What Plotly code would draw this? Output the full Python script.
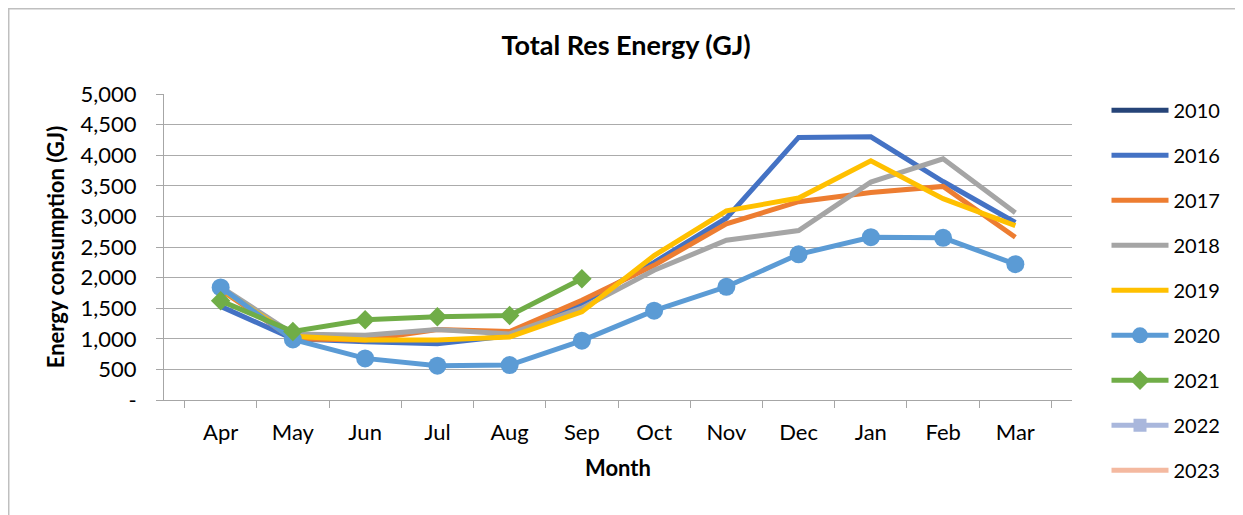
import plotly.graph_objects as go

months = ["Apr", "May", "Jun", "Jul", "Aug", "Sep", "Oct", "Nov", "Dec", "Jan", "Feb", "Mar"]

y2010 = [None] * 12
y2016 = [1530, 1000, 950, 920, 1050, 1580, 2250, 2970, 4290, 4300, 3570, 2900]
y2017 = [1800, 1000, 980, 1150, 1120, 1630, 2200, 2880, 3240, 3390, 3490, 2660]
y2018 = [1850, 1080, 1060, 1150, 1080, 1500, 2120, 2610, 2770, 3560, 3940, 3060]
y2019 = [1820, 1040, 980, 980, 1030, 1440, 2360, 3090, 3300, 3910, 3290, 2850]
y2020 = [1840, 990, 680, 560, 570, 970, 1460, 1850, 2380, 2660, 2650, 2220]
y2021 = [1620, 1120, 1310, 1360, 1380, 1980, None, None, None, None, None, None]
y2022 = [None] * 12
y2023 = [None] * 12

series = [
    ("2010", y2010, "#264478", None, 0),
    ("2016", y2016, "#4472C4", None, 0),
    ("2017", y2017, "#ED7D31", None, 0),
    ("2018", y2018, "#A5A5A5", None, 0),
    ("2019", y2019, "#FFC000", None, 0),
    ("2020", y2020, "#5B9BD5", "circle", 18),
    ("2021", y2021, "#70AD47", "diamond", 15),
    ("2022", y2022, "#A9B7DC", "square", 13),
    ("2023", y2023, "#F4B9A0", None, 0),
]

font_family = "Lato, 'Liberation Sans', sans-serif"

fig = go.Figure()
for name, vals, color, sym, size in series:
    mode = "lines+markers" if sym else "lines"
    fig.add_trace(go.Scatter(
        x=months, y=vals, name=name, mode=mode,
        line=dict(color=color, width=5),
        marker=dict(symbol=sym or "circle", size=size, color=color),
        legendgroup=name,
        connectgaps=False,
    ))

yticks = [0, 500, 1000, 1500, 2000, 2500, 3000, 3500, 4000, 4500, 5000]
ytext = ["-"] + [f"{v:,}" for v in yticks[1:]]

# page body has an 8px default margin, so margins are offset by 8px
fig.update_layout(
    width=1243, height=515,
    paper_bgcolor="white", plot_bgcolor="white",
    margin=dict(l=156, r=179, t=86, b=123),
    font=dict(family=font_family, size=20, color="black"),
    title=dict(text="<b>Total Res Energy (GJ)</b>", x=0.509, xref="paper",
               xanchor="center",
               y=0.928, yanchor="middle", font=dict(size=27)),
    showlegend=True,
    legend=dict(x=1.038, xanchor="left", y=1.0105, yanchor="top",
                font=dict(size=20), tracegroupgap=16, itemwidth=57,
                maxheight=500,
                bgcolor="rgba(0,0,0,0)"),
    shapes=[dict(type="rect", xref="paper", yref="paper",
                 x0=-0.171, x1=1.185, y0=-0.40, y1=1.2786,
                 line=dict(color="#BFBFBF", width=1.5))],
)

fig.update_xaxes(
    title=dict(text="<b>Month</b>", font=dict(size=22), standoff=16),
    showline=True, linecolor="#A6A6A6", linewidth=1,
    ticks="outside", ticklen=7, tickcolor="#A6A6A6", tickson="boundaries",
    showgrid=False, tickfont=dict(size=22), ticklabelstandoff=13,
    automargin=False,
)
fig.update_yaxes(
    title=dict(text="<b>Energy consumption (GJ)</b>", font=dict(size=22), standoff=9),
    range=[0, 5000], tickvals=yticks, ticktext=ytext,
    showline=True, linecolor="#A6A6A6", linewidth=1,
    ticks="outside", ticklen=7, tickcolor="#A6A6A6",
    showgrid=True, gridcolor="#ABABAB", gridwidth=1,
    zeroline=False, tickfont=dict(size=22), ticklabelstandoff=15,
    automargin=False,
)

fig.write_html("out.html")
